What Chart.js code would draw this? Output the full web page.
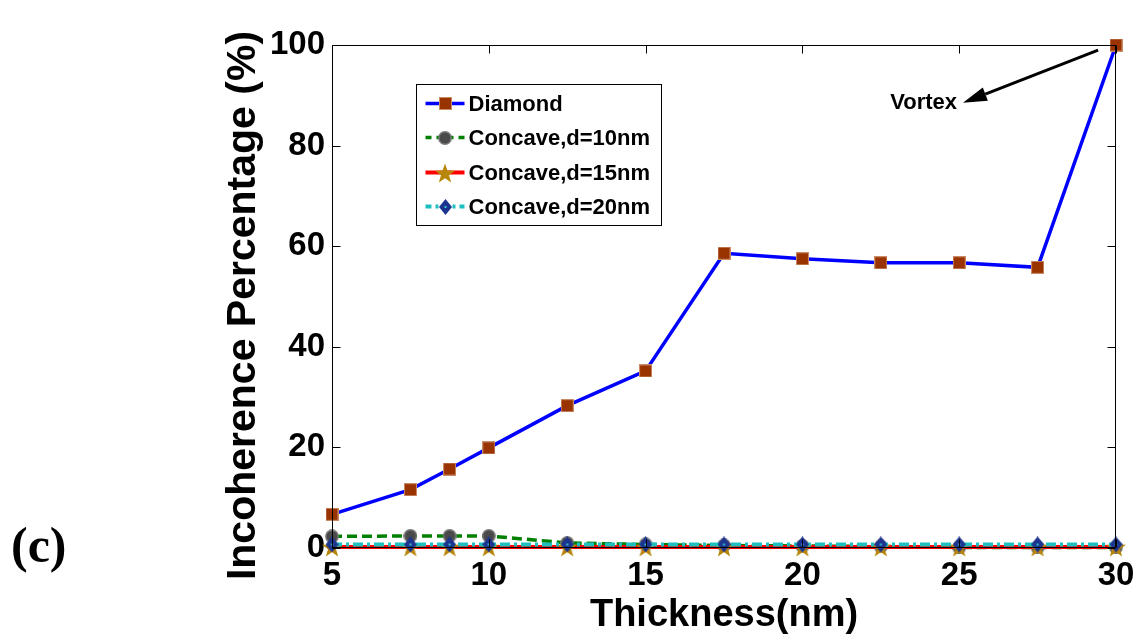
<!DOCTYPE html>
<html>
<head>
<meta charset="utf-8">
<script src="https://cdn.jsdelivr.net/npm/chart.js@4.4.0/dist/chart.umd.min.js"></script>
<style>
  html, body { margin: 0; padding: 0; background: #fff; }
  #wrap { width: 1133px; height: 641px; position: relative; }
</style>
</head>
<body>
<div id="wrap"><canvas id="chart" width="1133" height="641"></canvas></div>
<script>
// Film thickness (nm) and incoherence percentage for each particle shape
const thickness = [5, 7.5, 8.75, 10, 12.5, 15, 17.5, 20, 22.5, 25, 27.5, 30];
const diamond   = [6.7, 11.6, 15.7, 19.9, 28.3, 35.2, 58.6, 57.5, 56.7, 56.7, 55.8, 100];
const concave10 = [2.3, 2.4, 2.4, 2.4, 1.0, 0.7, 0.5, 0.4, 0.3, 0.1, 0.1, 0.1];
const concave15 = [0.2, 0.2, 0.2, 0.2, 0.2, 0.2, 0.2, 0.2, 0.2, 0.2, 0.2, 0.2];
const concave20 = [0.7, 0.7, 0.7, 0.7, 0.7, 0.7, 0.7, 0.7, 0.7, 0.7, 0.7, 0.7];
const seriesNames = ['Diamond', 'Concave,d=10nm', 'Concave,d=15nm', 'Concave,d=20nm'];
const xTicks = [5, 10, 15, 20, 25, 30];
const yTicks = [0, 20, 40, 60, 80, 100];
const xTitle = 'Thickness(nm)';
const yTitle = 'Incoherence Percentage (%)';
const vortexLabel = 'Vortex';
const panelLabel = '(c)';

// ---- marker sprites ----
function sprite(w, h, draw) {
  const c = document.createElement('canvas');
  c.width = w; c.height = h;
  draw(c.getContext('2d'), w, h);
  return c;
}
const squareMark = sprite(13, 13, (g, w, h) => {
  g.fillStyle = '#c98a66';
  g.fillRect(0, 0, w, h);
  g.fillStyle = '#993300';
  g.fillRect(1, 1, w - 2, h - 2);
});
const circleMark = sprite(14, 14, (g) => {
  g.beginPath(); g.arc(7, 7, 6.2, 0, Math.PI * 2);
  g.fillStyle = '#4a4a4a'; g.fill();
  g.lineWidth = 1.4; g.strokeStyle = '#7a7a7a'; g.stroke();
});
const starMark = sprite(22, 22, (g) => {
  g.beginPath();
  for (let i = 0; i < 10; i++) {
    const r = i % 2 === 0 ? 10.5 : 4.2;
    const a = -Math.PI / 2 + i * Math.PI / 5;
    const px = 11 + r * Math.cos(a), py = 12 + r * Math.sin(a);
    if (i === 0) g.moveTo(px, py); else g.lineTo(px, py);
  }
  g.closePath();
  g.fillStyle = '#b8860b'; g.fill();
});
const diamondMark = sprite(13, 16, (g, w, h) => {
  g.beginPath();
  g.moveTo(w / 2, 0); g.lineTo(w, h / 2); g.lineTo(w / 2, h); g.lineTo(0, h / 2);
  g.closePath();
  g.fillStyle = '#1c3390'; g.fill();
  g.fillStyle = '#30c8c8';
  g.fillRect(w / 2 - 1, h / 2 - 1, 2, 2);
});

const styles = [
  { color: '#0000ff', width: 3.5, dash: [], mark: squareMark },
  { color: '#008000', width: 3.5, dash: [10, 5], mark: circleMark },
  { color: '#ff0000', width: 4, dash: [], mark: starMark },
  { color: '#1fbfbf', width: 4, dash: [10, 4, 3, 4], mark: diamondMark }
];
const values = [diamond, concave10, concave15, concave20];
const drawOrder = [3, 2, 1, 0];

const datasets = values.map((vals, i) => ({
  label: seriesNames[i],
  data: thickness.map((t, k) => ({ x: t, y: vals[k] })),
  borderColor: styles[i].color,
  backgroundColor: styles[i].color,
  borderWidth: styles[i].width,
  borderDash: styles[i].dash,
  pointStyle: styles[i].mark,
  pointRadius: 7,
  tension: 0,
  clip: false,
  order: drawOrder[i]
}));

// Box around the plot with inward tick marks on all four sides
const framePlugin = {
  id: 'frame',
  afterDatasetsDraw(chart) {
    const { ctx, chartArea: a, scales: { x, y } } = chart;
    const L = Math.round(a.left) + 0.5, R = Math.round(a.right) - 0.5;
    const T = Math.round(a.top) + 0.5, B = Math.round(a.bottom) - 0.5;
    const len = 8;
    ctx.save();
    ctx.strokeStyle = '#000';
    ctx.lineWidth = 1;
    ctx.beginPath();
    ctx.rect(L, T, R - L, B - T);
    xTicks.forEach(v => {
      const px = Math.round(x.getPixelForValue(v)) + 0.5;
      ctx.moveTo(px, B); ctx.lineTo(px, B - len);
      ctx.moveTo(px, T); ctx.lineTo(px, T + len);
    });
    yTicks.forEach(v => {
      const py = Math.round(y.getPixelForValue(v)) + 0.5;
      ctx.moveTo(L, py); ctx.lineTo(L + len, py);
      ctx.moveTo(R, py); ctx.lineTo(R - len, py);
    });
    ctx.stroke();

    // "Vortex" annotation with arrow pointing from the last Diamond point
    const tx = x.getPixelForValue(29.43), ty = y.getPixelForValue(99.0);
    const hx = x.getPixelForValue(25.12), hy = y.getPixelForValue(88.5);
    const ang = Math.atan2(hy - ty, hx - tx);
    const headLen = 24, headHalf = 7;
    const bx = hx - headLen * Math.cos(ang), by = hy - headLen * Math.sin(ang);
    ctx.strokeStyle = '#000';
    ctx.lineWidth = 3;
    ctx.beginPath();
    ctx.moveTo(tx, ty); ctx.lineTo(bx, by);
    ctx.stroke();
    ctx.fillStyle = '#000';
    ctx.beginPath();
    ctx.moveTo(hx, hy);
    ctx.lineTo(bx + headHalf * Math.sin(ang), by - headHalf * Math.cos(ang));
    ctx.lineTo(bx - headHalf * Math.sin(ang), by + headHalf * Math.cos(ang));
    ctx.closePath();
    ctx.fill();
    ctx.font = 'bold 22px "Liberation Sans", Arial, sans-serif';
    ctx.textAlign = 'right';
    ctx.textBaseline = 'middle';
    ctx.fillText(vortexLabel, x.getPixelForValue(24.93), y.getPixelForValue(88.5));
    ctx.restore();
  }
};

// Boxed legend inside the plot, each entry showing line style and marker
const legendPlugin = {
  id: 'boxLegend',
  afterDraw(chart) {
    const { ctx, chartArea: a } = chart;
    const left = Math.round(a.left) + 84.5, top = Math.round(a.top) + 39.5;
    const w = 245, h = 141;
    const rows = [19, 53, 88, 122];
    ctx.save();
    ctx.fillStyle = '#fff';
    ctx.fillRect(left, top, w, h);
    ctx.strokeStyle = '#000';
    ctx.lineWidth = 1;
    ctx.strokeRect(left, top, w, h);
    ctx.font = 'bold 22px "Liberation Sans", Arial, sans-serif';
    ctx.textBaseline = 'middle';
    ctx.textAlign = 'left';
    seriesNames.forEach((name, i) => {
      const cy = top + rows[i];
      const s = styles[i];
      ctx.strokeStyle = s.color;
      ctx.lineWidth = s.width;
      ctx.setLineDash(s.dash.length ? [s.dash[0] * 0.6, s.dash[1]].concat(s.dash.slice(2)) : []);
      ctx.beginPath();
      ctx.moveTo(left + 9, cy); ctx.lineTo(left + 48, cy);
      ctx.stroke();
      ctx.setLineDash([]);
      ctx.drawImage(s.mark, Math.round(left + 28.5 - s.mark.width / 2), Math.round(cy - s.mark.height / 2));
      ctx.fillStyle = '#000';
      ctx.fillText(name, left + 52, cy + 1);
    });
    ctx.restore();
  }
};

// Panel tag at the lower left and the rotated y-axis title
const textPlugin = {
  id: 'sideTexts',
  afterDraw(chart) {
    const { ctx, chartArea: a } = chart;
    ctx.save();
    ctx.fillStyle = '#000';
    ctx.font = 'bold 50px "Liberation Serif", "Times New Roman", serif';
    ctx.textAlign = 'left';
    ctx.textBaseline = 'middle';
    ctx.fillText(panelLabel, 11, 549);

    ctx.translate(244, (a.top + a.bottom) / 2 + 9);
    ctx.rotate(-Math.PI / 2);
    ctx.font = 'bold 41px "Liberation Sans", Arial, sans-serif';
    ctx.textAlign = 'center';
    ctx.fillText(yTitle, 0, 0);
    ctx.restore();
  }
};

const tickFont = { family: '"Liberation Sans", Arial, sans-serif', size: 33, weight: 'bold' };

new Chart(document.getElementById('chart'), {
  type: 'line',
  data: { datasets },
  options: {
    responsive: false,
    animation: false,
    events: [],
    layout: { padding: { top: 45, right: 17, bottom: 0, left: 0 } },
    plugins: { legend: { display: false }, tooltip: { enabled: false } },
    scales: {
      x: {
        type: 'linear',
        min: 5, max: 30,
        afterFit(scale) { scale.height = 93; scale.paddingLeft = 0; scale.paddingRight = 0; },
        afterBuildTicks(scale) { scale.ticks = xTicks.map(v => ({ value: v })); },
        grid: { display: false, drawTicks: false },
        border: { display: false },
        ticks: { color: '#000', font: tickFont, padding: 8, maxRotation: 0, autoSkip: false },
        title: {
          display: true, text: xTitle, color: '#000',
          font: { family: '"Liberation Sans", Arial, sans-serif', size: 38, weight: 'bold' },
          padding: { top: 0, bottom: 3 }
        }
      },
      y: {
        type: 'linear',
        min: 0, max: 100,
        afterFit(scale) { scale.width = 332; scale.paddingTop = 0; scale.paddingBottom = 0; },
        afterBuildTicks(scale) { scale.ticks = yTicks.map(v => ({ value: v })); },
        grid: { display: false, drawTicks: false },
        border: { display: false },
        ticks: { color: '#000', font: tickFont, padding: 7, autoSkip: false },
        title: { display: false }
      }
    }
  },
  plugins: [framePlugin, legendPlugin, textPlugin]
});
</script>
</body>
</html>
